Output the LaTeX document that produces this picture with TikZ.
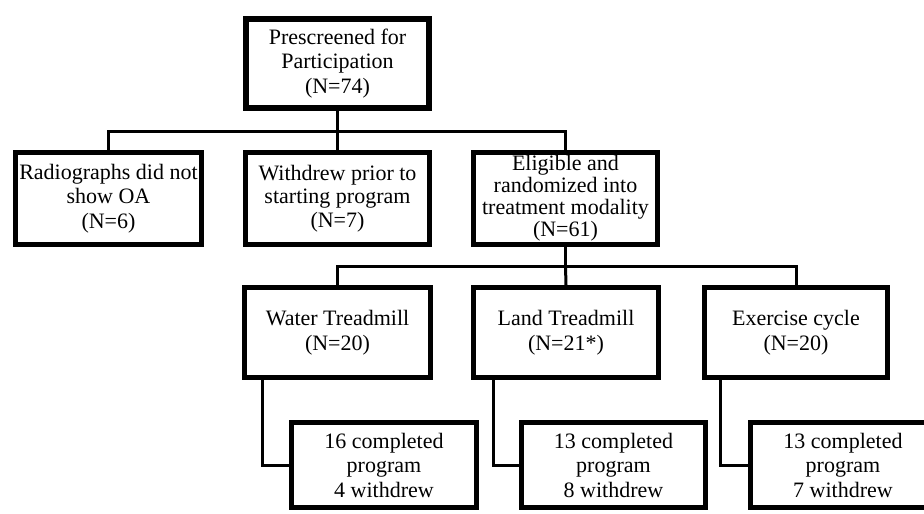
\documentclass[tikz,border=0pt]{standalone}
\usepackage{fontspec}
\setmainfont{Liberation Serif}
\usetikzlibrary{shadows,calc}
\tikzset{
  box/.style={draw=black, line width=5pt, fill=white, align=center,
    inner sep=0pt, minimum width=185pt, minimum height=92pt,
    font=\fontsize{22}{24.5}\selectfont,
    drop shadow={opacity=0.25, shadow xshift=1.5pt, shadow yshift=-1.5pt}},
  conn/.style={draw=black, line width=3pt}
}
\begin{document}
\begin{tikzpicture}[x=1pt, y=-1pt]
\useasboundingbox (0,0) rectangle (924,514);
\clip (0,0) rectangle (924,514);
\fill[white] (0,0) rectangle (924,514);
\coordinate (h1) at (337.5,131);
\coordinate (h2) at (565.5,266);
% nodes
\node[box, line width=6pt, minimum width=183pt, minimum height=89pt] (top) at (337.5,63.5) {Prescreened for\\Participation\\(N=74)};
\node[box, minimum width=186pt] (rad) at (108.5,198.5) {Radiographs did not\\show OA\\(N=6)};
\node[box, minimum width=184pt, font=\fontsize{22}{23.5}\selectfont] (wd) at (337.5,198.5) {Withdrew prior to\\starting program\\(N=7)};
\node[box, minimum width=184pt, font=\fontsize{22}{22}\selectfont] (elig) at (565.5,198.5) {Eligible and\\randomized into\\treatment modality\\(N=61)};
\node[box, minimum width=186pt, minimum height=90pt] (water) at (337.5,332.5) {Water Treadmill\\(N=20)};
\node[box, minimum width=185pt, minimum height=90pt] (land) at (566,332.5) {Land Treadmill\\(N=21*)};
\node[box, minimum width=183pt, minimum height=90pt] (exer) at (796,332.5) {Exercise cycle\\(N=20)};
\node[box, minimum width=185pt, minimum height=85pt] (c1) at (384,465) {16 completed\\program\\4 withdrew};
\node[box, minimum width=184pt, minimum height=85pt] (c2) at (613.5,465) {13 completed\\program\\8 withdrew};
\node[box, minimum width=185pt, minimum height=85pt] (c3) at (843,465) {13 completed\\program\\7 withdrew};
% connectors
\draw[conn] (top.south) -- (wd.north);
\draw[conn] (rad.north) |- (h1) -| (elig.north);
\draw[conn] (elig.south) -- (h2);
\draw[conn] (water.north) |- (h2) -| (exer.north);
\draw[conn] (h2) -- (land.north);
\draw[conn] ([xshift=20pt]water.south west) |- (c1.west);
\draw[conn] ([xshift=22pt]land.south west) |- (c2.west);
\draw[conn] ([xshift=18pt]exer.south west) |- (c3.west);
\end{tikzpicture}
\end{document}
